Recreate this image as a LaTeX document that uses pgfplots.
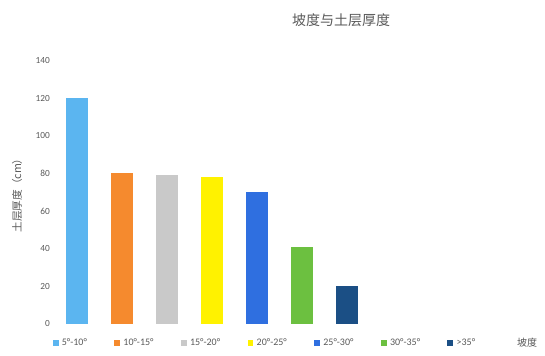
\documentclass[border=0pt]{standalone}
\usepackage{pgfplots}
\pgfplotsset{compat=1.18}
\usepackage{fontspec}
\setmainfont{Carlito}
\newfontfamily\cjk{Noto Sans CJK SC}
\definecolor{c1}{HTML}{5BB5F0}
\definecolor{c2}{HTML}{F58A2E}
\definecolor{c3}{HTML}{C9C9C9}
\definecolor{c4}{HTML}{FFF200}
\definecolor{c5}{HTML}{2F6FE0}
\definecolor{c6}{HTML}{6CC040}
\definecolor{c7}{HTML}{1B4F85}
\definecolor{txt}{HTML}{595959}
\begin{document}
\begin{tikzpicture}[x=0.75pt,y=0.75pt]
\useasboundingbox (0,0) rectangle (545,356);
\begin{axis}[
  at={(54.5*0.75pt,32*0.75pt)}, anchor=south west,
  scale only axis, width=236.25pt, height=197.7pt,
  xmin=-0.5, xmax=6.5, ymin=0, ymax=140,
  ytick={0,20,...,140},
  xtick=\empty,
  axis line style={draw=none},
  tick style={draw=none},
  yticklabel style={font=\fontsize{7}{8}\selectfont, text=txt},
  /pgf/number format/assume math mode=true,
  bar width=0.48,
  legend style={at={(0.668,-0.072)}, anchor=center, legend columns=7, draw=none,
     font=\fontsize{7.5}{9}\selectfont, text=txt, column sep=1pt, fill=none,
     nodes={inner xsep=1.5pt},
     /tikz/every even column/.append style={column sep=19pt}},
  legend image code/.code={\draw[#1,draw=none] (0pt,-2.2pt) rectangle (4.4pt,2.2pt);},
  clip=false,
]
\addplot[ybar, bar shift=0pt, fill=c1, draw=none] coordinates {(0,120)};
\addplot[ybar, bar shift=0pt, fill=c2, draw=none] coordinates {(1,80)};
\addplot[ybar, bar shift=0pt, fill=c3, draw=none] coordinates {(2,79)};
\addplot[ybar, bar shift=0pt, fill=c4, draw=none] coordinates {(3,78)};
\addplot[ybar, bar shift=0pt, fill=c5, draw=none] coordinates {(4,70)};
\addplot[ybar, bar shift=0pt, fill=c6, draw=none] coordinates {(5,41)};
\addplot[ybar, bar shift=0pt, fill=c7, draw=none] coordinates {(6,20)};
\legend{5°-10°,10°-15°,15°-20°,20°-25°,25°-30°,30°-35°,>35°}
\end{axis}
\node[text=txt, font=\cjk\fontsize{10.5}{12}\selectfont] at (341,336) {坡度与土层厚度};
\node[text=txt, font=\cjk\fontsize{8}{9}\selectfont, rotate=90] at (17,163) {土层厚度（cm）};
\node[text=txt, font=\cjk\fontsize{7.5}{9}\selectfont] at (527,13) {坡度};
\end{tikzpicture}
\end{document}
